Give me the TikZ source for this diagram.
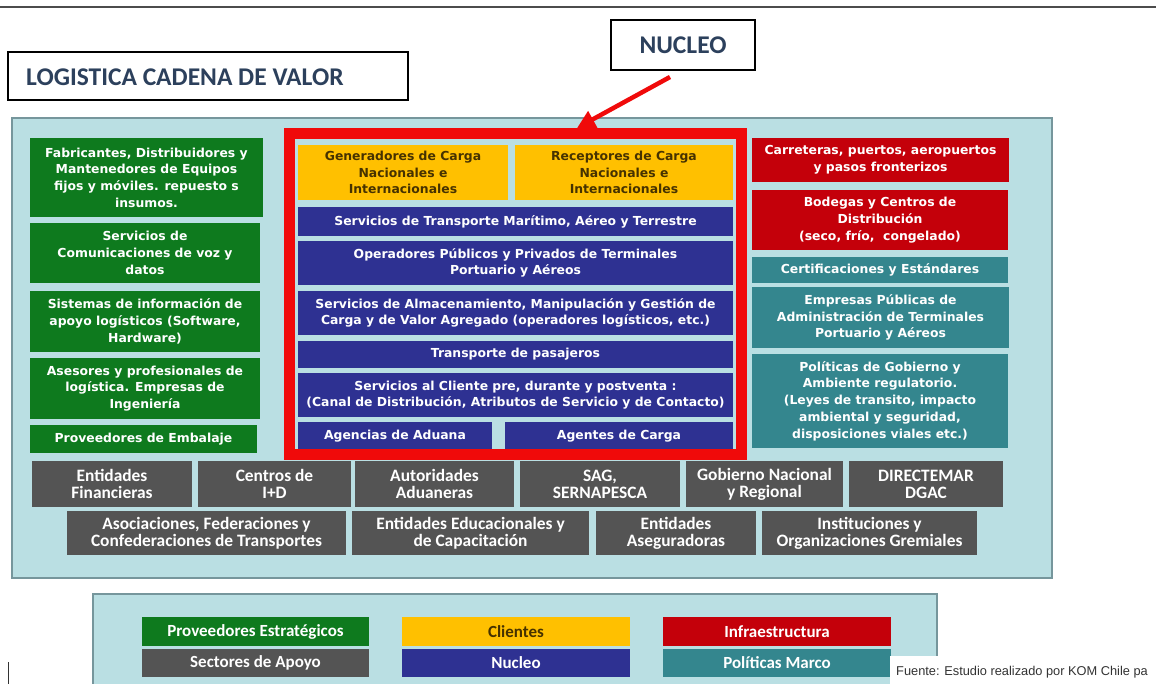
\documentclass[tikz,border=0pt]{standalone}
\usepackage{fontspec}
\setmainfont{DejaVu Sans}
\newfontfamily\carlfam{Carlito}
\newfontfamily\arialfam{Liberation Sans}
\usetikzlibrary{arrows.meta}
\definecolor{panelbg}{RGB}{186,223,227}
\definecolor{panelbd}{RGB}{118,150,156}
\definecolor{cgreen}{RGB}{14,122,30}
\definecolor{cyellow}{RGB}{255,192,0}
\definecolor{cblue}{RGB}{46,49,146}
\definecolor{cred}{RGB}{196,0,10}
\definecolor{cteal}{RGB}{52,134,142}
\definecolor{cgray}{RGB}{84,84,84}
\definecolor{titlec}{RGB}{44,64,92}
\definecolor{ytext}{RGB}{70,50,0}
\definecolor{nred}{RGB}{240,10,10}
\newcommand\fontA{\fontsize{12.4}{16.7}\selectfont\bfseries}
\newcommand\fontB{\carlfam\fontsize{17.4}{17}\selectfont\bfseries}
\newcommand\fontL{\carlfam\fontsize{17}{18}\selectfont\bfseries}
% name, x1, y1, x2, y2, style, text
\newcommand\mybox[7]{\node[#6, minimum width={(#4-#2)*1pt}, minimum height={(#5-#3)*1pt}] (#1) at ({(#2+#4)/2},{(#3+#5)/2}) {#7};}
\tikzset{
  base/.style={inner sep=0pt, outer sep=0pt, align=center, draw=none},
  gbox/.style={base, fill=cgreen, text=white, font=\fontA},
  ybox/.style={base, fill=cyellow, text=ytext, font=\fontA},
  bbox/.style={base, fill=cblue, text=white, font=\fontA},
  rbox/.style={base, fill=cred, text=white, font=\fontA},
  tbox/.style={base, fill=cteal, text=white, font=\fontA},
  dbox/.style={base, fill=cgray, text=white, font=\fontB},
  lgbox/.style={base, text=white, font=\fontL},
  framebox/.style={inner sep=0pt, outer sep=0pt, draw=black, line width=1.3pt, fill=white},
  heading/.style={text=titlec, font=\carlfam\fontsize{25.5}{28}\selectfont\bfseries, inner sep=0pt},
}
\begin{document}
\begin{tikzpicture}[x=1pt,y=-1pt]
\useasboundingbox (0,0) rectangle (1156,684);
\fill[white] (0,0) rectangle (1156,684);
% top rule
\draw[black!70, line width=1.5pt] (0,7) -- (1156,7);
% title
\mybox{title}{8}{52}{408}{100}{framebox}{}
\node[heading, anchor=west] (titletext) at (26,77) {LOGISTICA CADENA DE VALOR};
% NUCLEO label
\mybox{NUC}{611}{20}{755}{70}{framebox}{}
\node[heading] (NUCtext) at (NUC.center) {NUCLEO};
% main panel
\mybox{panel}{12}{118}{1052}{578}{base, fill=panelbg, draw=panelbd, line width=2pt}{}
% left column
\mybox{G1}{30}{138}{263}{217}{gbox}{Fabricantes, Distribuidores y\\Mantenedores de Equipos\\fijos y móviles. repuesto s\\insumos.}
\mybox{G2}{30}{223}{260}{283}{gbox}{Servicios de\\Comunicaciones de voz y\\datos}
\mybox{G3}{30}{291}{260}{352}{gbox}{Sistemas de información de\\apoyo logísticos (Software,\\Hardware)}
\mybox{G4}{30}{358}{260}{419}{gbox}{Asesores y profesionales de\\logística. Empresas de\\Ingeniería}
\mybox{G5}{30}{425}{257}{453}{gbox}{Proveedores de Embalaje}
% core
\mybox{Y1}{298}{145}{508}{200}{ybox}{Generadores de Carga\\Nacionales e\\Internacionales}
\mybox{Y2}{515}{145}{733}{200}{ybox}{Receptores de Carga\\Nacionales e\\Internacionales}
\mybox{B1}{298}{207}{733}{236}{bbox}{Servicios de Transporte Marítimo, Aéreo y Terrestre}
\mybox{B2}{298}{241}{733}{285}{bbox}{Operadores Públicos y Privados de Terminales\\Portuario y Aéreos}
\mybox{B3}{298}{291}{733}{335}{bbox}{Servicios de Almacenamiento, Manipulación y Gestión de\\Carga y de Valor Agregado (operadores logísticos, etc.)}
\mybox{B4}{298}{341}{733}{368}{bbox}{Transporte de pasajeros}
\mybox{B5}{298}{373}{733}{417}{bbox}{Servicios al Cliente pre, durante y postventa :\\(Canal de Distribución, Atributos de Servicio y de Contacto)}
\mybox{B6}{298}{422}{492}{450}{bbox}{Agencias de Aduana}
\mybox{B7}{505}{422}{733}{450}{bbox}{Agentes de Carga}
\mybox{core}{289.5}{133.5}{741.5}{454.5}{base, draw=nred, line width=11pt}{}
% right column
\mybox{R1}{752}{138}{1009}{182}{rbox}{Carreteras, puertos, aeropuertos\\y pasos fronterizos}
\mybox{R2}{752}{190}{1008}{250}{rbox}{Bodegas y Centros de\\Distribución\\(seco, frío,\ \ congelado)}
\mybox{T1}{752}{257}{1008}{283}{tbox}{Certificaciones y Estándares}
\mybox{T2}{752}{287}{1009}{348}{tbox}{Empresas Públicas de\\Administración de Terminales\\Portuario y Aéreos}
\mybox{T3}{752}{354}{1008}{448}{tbox}{Políticas de Gobierno y\\Ambiente regulatorio.\\(Leyes de transito, impacto\\ambiental y seguridad,\\disposiciones viales etc.)}
% support row 1
\mybox{E1}{32}{461}{192}{507}{dbox}{Entidades\\Financieras}
\mybox{E2}{198}{461}{351}{507}{dbox}{Centros de\\I+D}
\mybox{E3}{355}{461}{514}{507}{dbox}{Autoridades\\Aduaneras}
\mybox{E4}{520}{461}{680}{507}{dbox}{SAG,\\SERNAPESCA}
\mybox{E5}{686}{461}{843}{507}{dbox}{Gobierno Nacional\\y Regional}
\mybox{E6}{849}{461}{1003}{507}{dbox}{DIRECTEMAR\\DGAC}
% support row 2
\mybox{A1}{67}{511}{346}{555}{dbox}{Asociaciones, Federaciones y\\Confederaciones de Transportes}
\mybox{A2}{352}{511}{589}{555}{dbox}{Entidades Educacionales y\\de Capacitación}
\mybox{A3}{596}{511}{756}{555}{dbox}{Entidades\\Aseguradoras}
\mybox{A4}{762}{511}{977}{555}{dbox}{Instituciones y\\Organizaciones Gremiales}
% arrow
\coordinate (arrS) at (670,77);
\coordinate (arrE) at (577,128);
\draw[nred, line width=4.5pt, -{Triangle[length=18pt,width=18pt]}] (arrS) -- (arrE);
% legend
\mybox{legend}{93}{594}{937}{692}{base, fill=panelbg, draw=panelbd, line width=2pt}{}
\mybox{L1}{142}{617}{369}{646}{lgbox, fill=cgreen}{Proveedores Estratégicos}
\mybox{L2}{142}{649}{369}{677}{lgbox, fill=cgray}{Sectores de Apoyo}
\mybox{L3}{402}{617}{630}{646}{lgbox, fill=cyellow, text=ytext}{Clientes}
\mybox{L4}{402}{649}{630}{677}{lgbox, fill=cblue}{Nucleo}
\mybox{L5}{663}{617}{891}{646}{lgbox, fill=cred}{Infraestructura}
\mybox{L6}{663}{649}{891}{677}{lgbox, fill=cteal}{Políticas Marco}
% source note
\mybox{src}{890}{656}{1160}{688}{base, fill=white}{}
\node[anchor=west, inner sep=0pt, text=black!80, font=\arialfam\fontsize{12.8}{15}\selectfont] (srctext) at (896,672) {Fuente: Estudio realizado por KOM Chile pa};
% small mark
\coordinate (m1) at (8,662);
\coordinate (m2) at (8,684);
\draw[black!80, line width=1pt] (m1) -- (m2);
\end{tikzpicture}
\end{document}
